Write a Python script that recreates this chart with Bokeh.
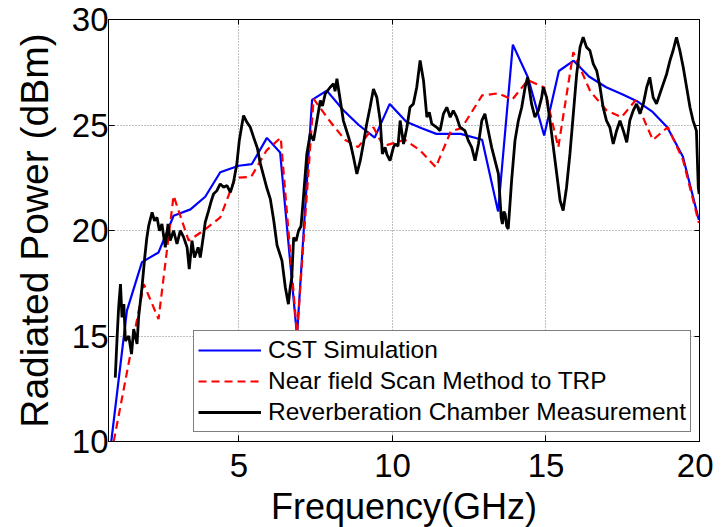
from bokeh.plotting import figure
from bokeh.models import LinearAxis, FixedTicker, Range1d
from bokeh.embed import file_html
from bokeh.resources import INLINE

# ---- data ----
cst_f = [0.84, 1.35, 1.84, 2.38, 2.87, 3.42, 3.9, 4.39, 4.99, 5.42, 5.91, 6.34, 6.89, 7.38, 7.86,
         8.4, 8.9, 9.42, 9.91, 10.45, 10.95, 11.43, 12.22, 12.92, 13.44, 13.92, 14.41, 14.94,
         15.42, 15.9, 16.4, 16.96, 17.5, 18.0, 18.45, 18.95, 19.46, 19.98]
cst_v = [10.0, 16.2, 18.5, 18.96, 20.7, 21.0, 21.6, 22.76, 23.07, 23.15, 24.39, 23.7, 15.0, 26.19, 26.63,
         25.7, 25.0, 24.4, 26.0, 25.15, 24.85, 24.58, 24.58, 24.3, 20.9, 28.81, 27.26, 24.5,
         27.56, 28.05, 27.3, 26.79, 26.45, 26.1, 25.65, 24.89, 23.5, 20.5]

nf_f = [0.92, 1.9, 2.38, 2.87, 3.36, 3.85, 4.39, 4.88, 5.4, 5.9, 6.36, 6.89, 7.43, 7.95, 8.45, 8.88,
        9.38, 9.7, 10.4, 10.9, 11.41, 11.9, 12.25, 12.92, 13.44, 13.9, 14.41, 14.94, 15.4, 15.89,
        16.44, 16.97, 17.46, 17.92, 18.48, 18.97, 19.46, 19.98]
nf_v = [10.0, 17.46, 15.8, 21.65, 19.52, 20.0, 20.62, 22.49, 22.55, 23.8, 24.4, 15.1, 26.24, 25.2, 24.3, 23.95,
        24.89, 24.0, 24.3, 23.8, 23.0, 24.7, 24.85, 26.4, 26.5, 26.2, 27.13, 26.78, 23.94, 28.45,
        26.6, 25.7, 25.37, 26.17, 24.29, 24.9, 23.35, 20.36]

rc_f = [0.97, 1.03, 1.08, 1.14, 1.19, 1.25, 1.3, 1.41, 1.5, 1.57, 1.68, 1.73, 1.84, 1.93, 2.0, 2.06,
        2.17, 2.25, 2.33, 2.41, 2.49, 2.6, 2.69, 2.76, 2.87, 2.98, 3.09, 3.2, 3.31, 3.38, 3.47, 3.55,
        3.67, 3.74, 3.85, 3.9, 4.01, 4.1, 4.17, 4.28, 4.39, 4.5, 4.61, 4.72, 4.82, 4.93, 5.01, 5.1,
        5.15, 5.26, 5.37, 5.48, 5.6, 5.69, 5.8, 5.9, 6.02, 6.13, 6.24, 6.4, 6.51, 6.61, 6.66, 6.72,
        6.78, 6.86, 6.94, 7.02, 7.1, 7.21, 7.32, 7.43, 7.54, 7.65, 7.72, 7.81, 7.97, 8.08, 8.13, 8.19,
        8.3, 8.4, 8.57, 8.65, 8.73, 8.84, 8.95, 9.05, 9.16, 9.27, 9.38, 9.49, 9.6, 9.67, 9.76, 9.82,
        9.92, 10.03, 10.09, 10.18, 10.25, 10.36, 10.47, 10.57, 10.68, 10.79, 10.9, 11.01, 11.12, 11.2,
        11.28, 11.44, 11.55, 11.66, 11.77, 11.88, 11.98, 12.09, 12.2, 12.36, 12.47, 12.58, 12.69, 12.8,
        12.91, 13.01, 13.12, 13.23, 13.34, 13.45, 13.54, 13.58, 13.63, 13.67, 13.72, 13.77, 13.88,
        13.99, 14.1, 14.21, 14.32, 14.4, 14.53, 14.64, 14.75, 14.86, 14.91, 15.02, 15.13, 15.24,
        15.35, 15.46, 15.56, 15.67, 15.78, 15.89, 16.0, 16.11, 16.21, 16.32, 16.43, 16.54, 16.65,
        16.76, 16.86, 16.97, 17.08, 17.19, 17.3, 17.41, 17.52, 17.63, 17.73, 17.84, 17.95, 18.06,
        18.17, 18.28, 18.38, 18.49, 18.6, 18.71, 18.82, 18.93, 19.04, 19.14, 19.25, 19.36, 19.47,
        19.58, 19.69, 19.79, 19.9, 19.96, 19.99]
rc_v = [13.03, 14.93, 16.35, 17.46, 15.88, 16.51, 14.77, 15.0, 14.14, 15.33, 14.62, 15.88, 17.3, 18.72, 19.67, 20.23,
        20.86, 20.46, 20.62, 19.99, 20.31, 19.2, 20.31, 19.52, 19.99, 19.36, 19.99, 19.67, 19.2, 18.17, 19.52, 18.72,
        19.2, 18.72, 19.83, 20.38, 20.94, 21.41, 21.73, 21.89, 22.21, 22.05, 22.13, 21.81, 22.28, 23.15, 24.26, 25.05,
        25.45, 25.13, 24.89, 24.4, 23.9, 23.2, 22.6, 22.05, 21.5, 20.5, 19.3, 18.57, 17.3, 16.51, 17.2, 17.78,
        19.67, 19.5, 19.99, 20.2, 21.57, 23.63, 24.58, 24.26, 25.21, 26.16, 25.9, 26.48, 26.79, 26.95, 26.6, 27.19,
        26.16, 25.21, 24.42, 24.0, 23.47, 22.68, 23.31, 24.1, 25.05, 25.84, 26.71, 26.31, 25.21, 23.63, 23.94, 23.6,
        23.31, 23.94, 24.1, 24.0, 25.21, 24.1, 24.89, 25.84, 26.0, 26.79, 28.06, 27.11, 25.37, 25.6,
        25.05, 24.89, 24.73, 25.53, 25.84, 25.37, 25.68, 25.37, 24.89, 24.73, 24.26, 23.94, 23.31, 24.1,
        25.21, 25.53, 24.73, 23.94, 23.31, 22.68, 20.62, 20.31, 20.9, 20.78, 20.2, 20.07, 22.36,
        24.26, 25.21, 25.84, 26.79, 27.26, 26.0, 25.37, 25.68, 26.31, 26.79, 26.31, 25.21, 23.94,
        22.68, 21.41, 20.94, 22.05, 23.63, 25.53, 27.42, 28.69, 29.16, 28.69, 28.53, 27.9, 27.58,
        26.79, 25.84, 25.21, 24.89, 24.1, 24.73, 25.21, 24.73, 24.18, 25.21, 25.68, 26.0, 25.53,
        26.0, 26.79, 27.26, 26.31, 26.0, 26.48, 26.95, 27.42, 28.06, 28.53, 29.16, 28.53, 27.74,
        26.79, 25.84, 25.21, 24.73, 22.05, 21.73]

x_ticks = [5, 10, 15, 20]
y_ticks = [10, 15, 20, 25, 30]
series_labels = ["CST Simulation", "Near field Scan Method to TRP", "Reverberation Chamber Measurement"]

FONT = "Liberation Sans"

p = figure(frame_width=591, frame_height=422,
           x_range=Range1d(0.75, 20), y_range=Range1d(10, 30),
           output_backend="svg", toolbar_location=None,
           min_border_left=108, min_border_right=14, min_border_top=19, min_border_bottom=84,
           background_fill_color="white", border_fill_color="white")

p.outline_line_color = "black"
p.outline_line_width = 1
p.outline_line_alpha = 1

p.line(cst_f, cst_v, line_color="#0000ff", line_width=2.2, legend_label=series_labels[0])
p.line(nf_f, nf_v, line_color="#ff0000", line_width=2.2, line_dash="8 5", legend_label=series_labels[1])
p.line(rc_f, rc_v, line_color="black", line_width=2.8, legend_label=series_labels[2])

for ax, ticks in ((p.xaxis[0], x_ticks), (p.yaxis[0], y_ticks)):
    ax.ticker = FixedTicker(ticks=ticks)
    ax.major_tick_in = 6
    ax.major_tick_out = 0
    ax.minor_tick_line_color = None
    ax.axis_line_color = "black"
    ax.major_label_text_font = FONT
    ax.major_label_text_color = "black"
    ax.axis_label_text_font = FONT
    ax.axis_label_text_font_style = "normal"
    ax.axis_label_text_color = "black"

p.xaxis[0].major_label_text_font_size = "33px"
p.yaxis[0].major_label_text_font_size = "33px"
p.xaxis[0].axis_label = "Frequency(GHz)"
p.yaxis[0].axis_label = "Radiated Power (dBm)"
p.xaxis[0].axis_label_text_font_size = "36px"
p.yaxis[0].axis_label_text_font_size = "39px"
p.xaxis[0].major_label_standoff = 12
p.yaxis[0].major_label_standoff = 0
p.xaxis[0].axis_label_standoff = 6
p.yaxis[0].axis_label_standoff = 13

# tick marks on top and right (box), no labels
top = LinearAxis(ticker=FixedTicker(ticks=x_ticks), major_tick_in=5, major_tick_out=0,
                 minor_tick_line_color=None, major_label_text_font_size="0px",
                 major_label_text_color=None, major_label_standoff=0, axis_line_color="black")
right = LinearAxis(ticker=FixedTicker(ticks=y_ticks), major_tick_in=5, major_tick_out=0,
                   minor_tick_line_color=None, major_label_text_font_size="0px",
                   major_label_text_color=None, major_label_standoff=0, axis_line_color="black")
p.add_layout(top, "above")
p.add_layout(right, "right")

p.xgrid.ticker = FixedTicker(ticks=x_ticks)
p.ygrid.ticker = FixedTicker(ticks=y_ticks)
for g in (p.xgrid[0], p.ygrid[0]):
    g.grid_line_color = "#808080"
    g.grid_line_dash = "1 2"
    g.grid_line_width = 1

lg = p.legend[0]
lg.location = (85, 9)
lg.label_text_font = FONT
lg.label_text_font_size = "24.5px"
lg.label_text_color = "black"
lg.border_line_color = "black"
lg.border_line_width = 1
lg.background_fill_color = "white"
lg.background_fill_alpha = 1
lg.glyph_width = 63
lg.glyph_height = 30
lg.label_height = 30
lg.label_standoff = 7
lg.spacing = 1
lg.padding = 4
lg.margin = 0

open("out.html", "w").write(file_html(p, INLINE))
